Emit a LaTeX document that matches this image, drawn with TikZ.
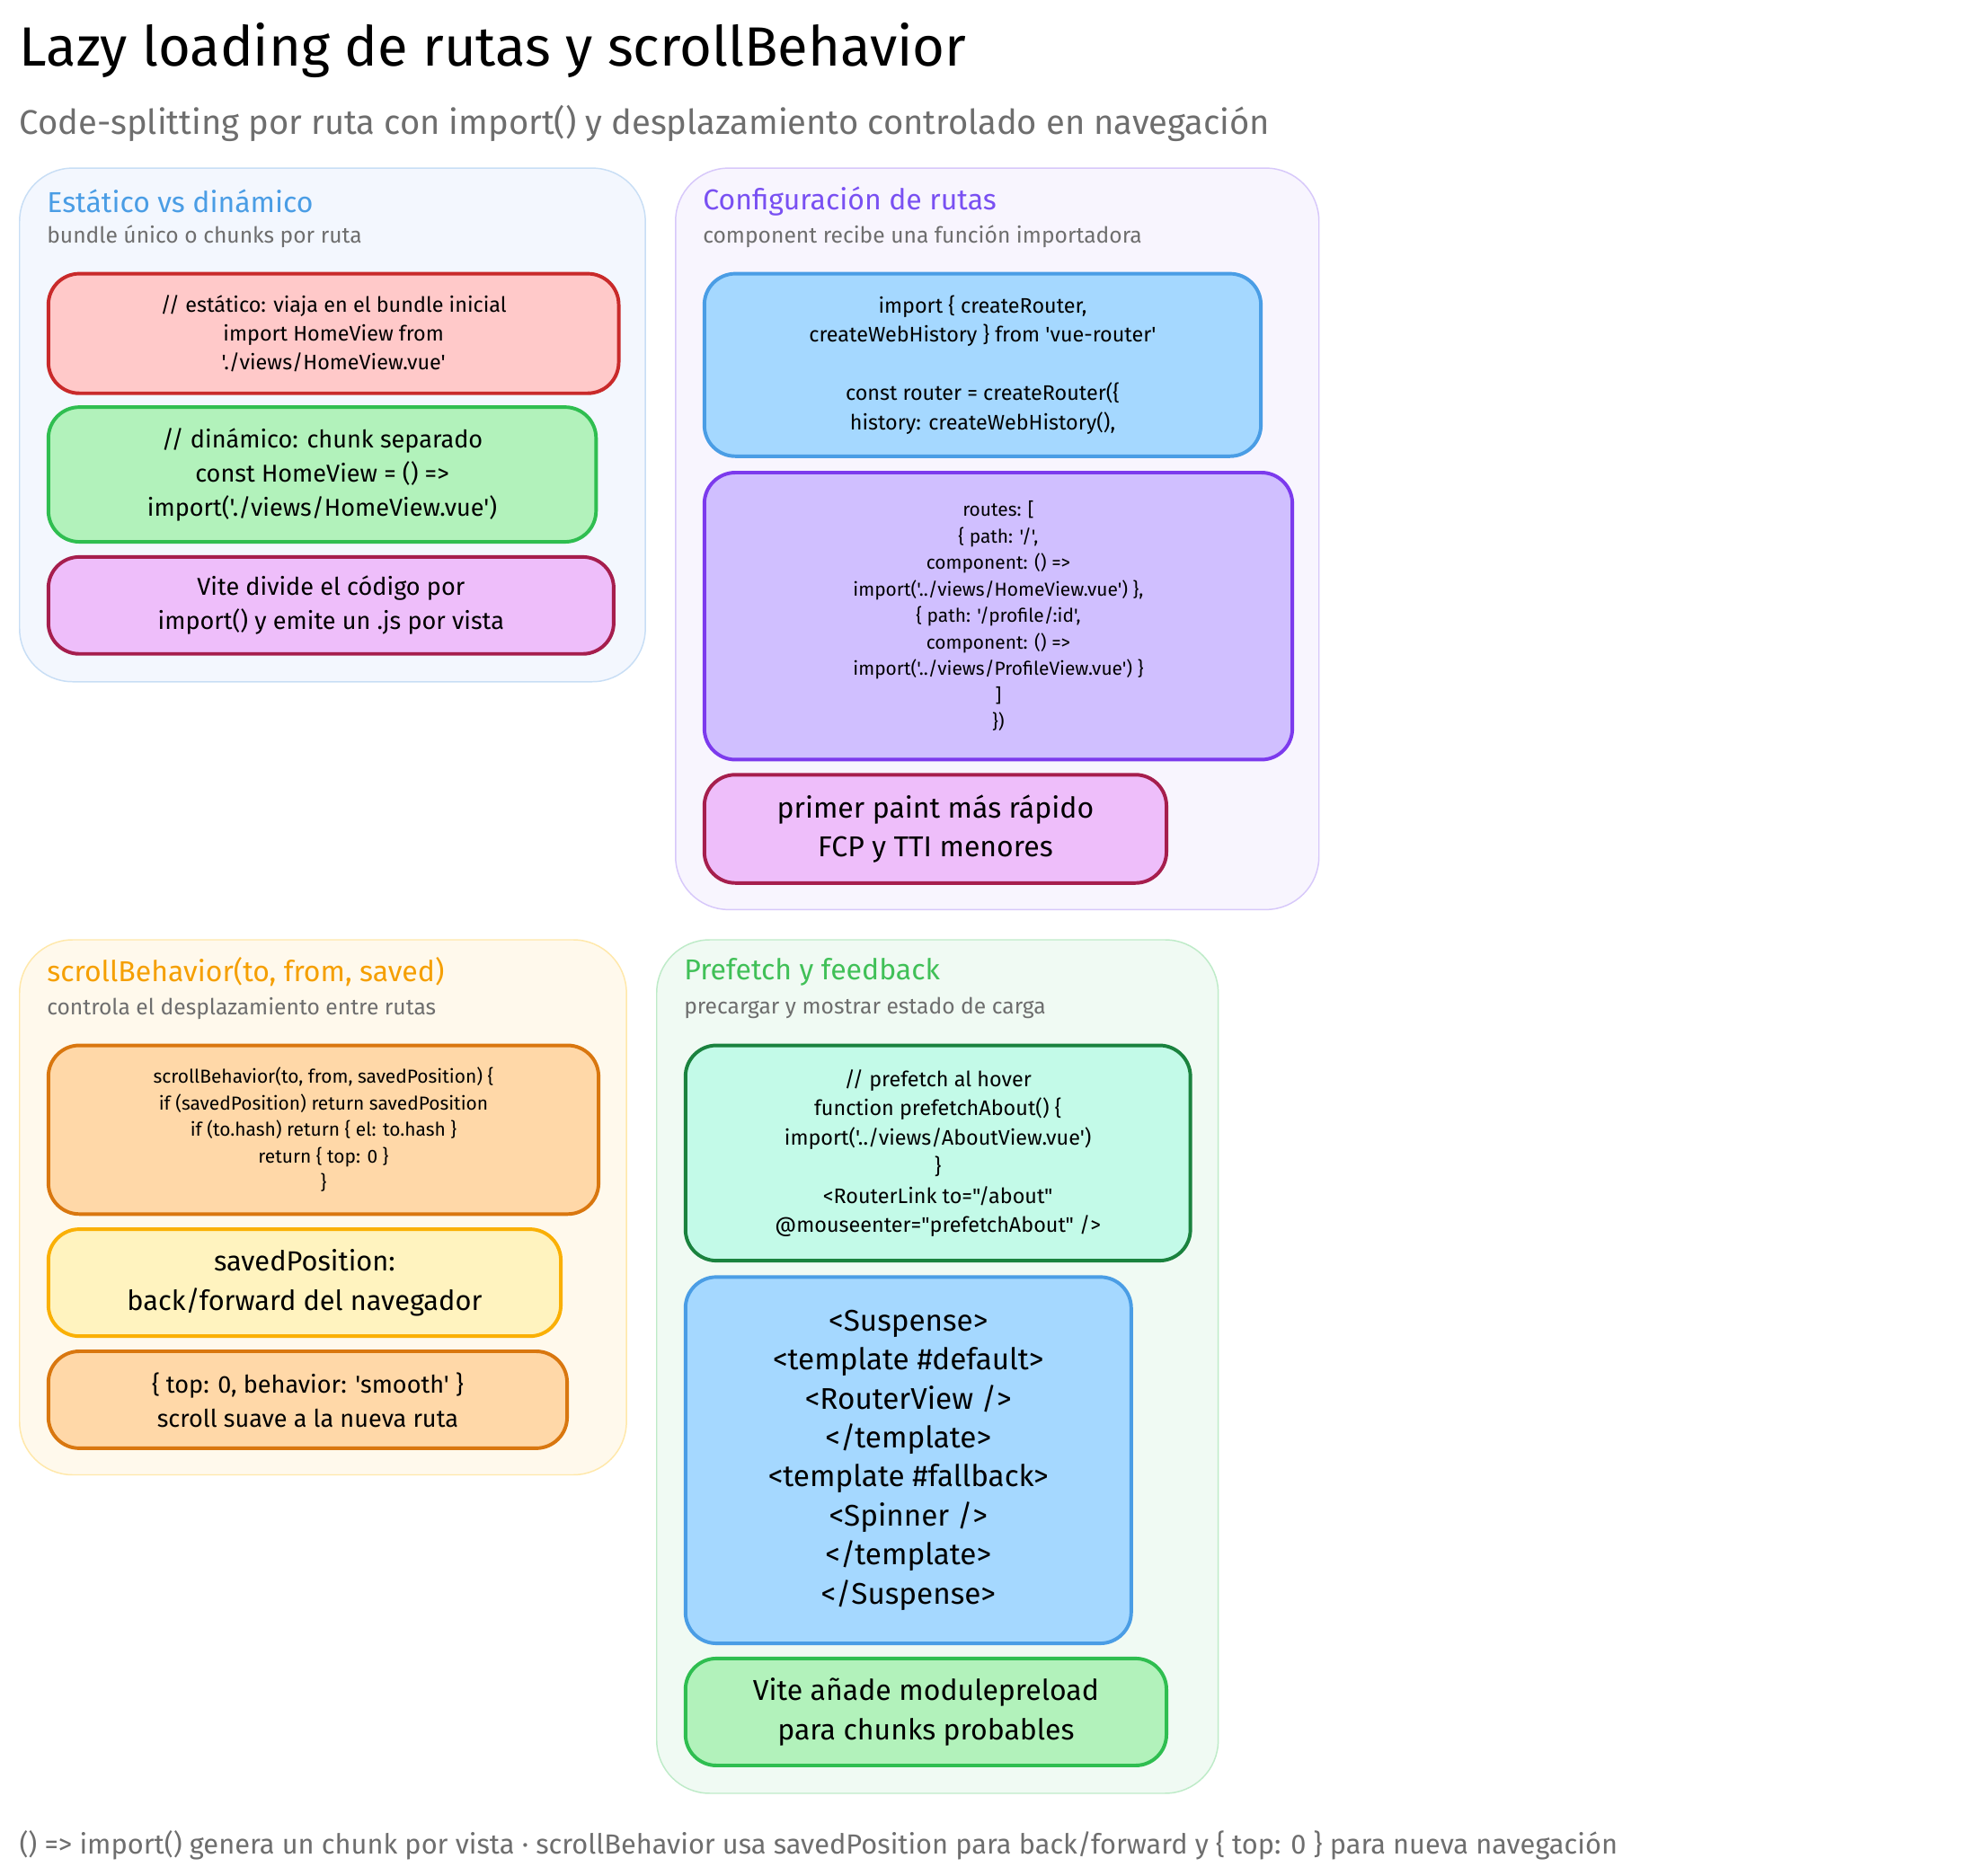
\documentclass[tikz,border=0pt]{standalone}
\usepackage{fontspec}
\setmainfont{Fira Sans}[Ligatures=TeXOff]
\usetikzlibrary{positioning}
\definecolor{inkgray}{HTML}{6E6E6E}
\tikzstyle{panel}=[draw, rounded corners=24pt, line width=0.6pt, anchor=north west, inner sep=0pt]
\tikzstyle{box}=[draw, rounded corners=14pt, line width=1.6pt, align=center, anchor=north west, inner sep=2pt]
\tikzstyle{ptitle}=[anchor=west, inner sep=0pt, font=\fontsize{13}{14}\selectfont]
\tikzstyle{psub}=[anchor=west, inner sep=0pt, text=inkgray, font=\fontsize{10}{11}\selectfont]

\begin{document}
\begin{tikzpicture}[x=0.2mm, y=-0.2mm]
            \useasboundingbox (0,0) rectangle (1563,1490);

            % header
            \node[anchor=west, inner sep=0pt, font=\fontsize{25}{28}\selectfont] (title) at (15,40) {Lazy loading de rutas y scrollBehavior};
            \node[anchor=west, inner sep=0pt, text=inkgray, font=\fontsize{15.5}{18}\selectfont] (subtitle) at (15,98) {Code-splitting por ruta con import() y desplazamiento controlado en navegación};

            % panels
            \node[panel, fill={rgb,255:red,243;green,247;blue,254}, draw={rgb,255:red,200;green,222;blue,245}, minimum width=497*0.2mm, minimum height=408*0.2mm] (p1) at (15,133) {};
            \node[panel, fill={rgb,255:red,248;green,245;blue,254}, draw={rgb,255:red,215;green,200;blue,250}, minimum width=511*0.2mm, minimum height=589*0.2mm] (p2) at (536,133) {};
            \node[panel, fill={rgb,255:red,255;green,249;blue,236}, draw={rgb,255:red,255;green,232;blue,170}, minimum width=482*0.2mm, minimum height=425*0.2mm] (p3) at (15,746) {};
            \node[panel, fill={rgb,255:red,240;green,250;blue,243}, draw={rgb,255:red,190;green,235;blue,200}, minimum width=446*0.2mm, minimum height=678*0.2mm] (p4) at (521,746) {};

            \node[ptitle, text={rgb,255:red,74;green,157;blue,229}] (t1) at (37,160) {Estático vs dinámico};
            \node[psub] (s1) at (37,188) {bundle único o chunks por ruta};
            \node[ptitle, text={rgb,255:red,121;green,80;blue,242}] (t2) at (558,160) {Configuración de rutas};
            \node[psub] (s2) at (558,188) {component recibe una función importadora};
            \node[ptitle, text={rgb,255:red,245;green,159;blue,0}] (t3) at (37,772) {scrollBehavior(to, from, saved)};
            \node[psub] (s3) at (37,801) {controla el desplazamiento entre rutas};
            \node[ptitle, text={rgb,255:red,64;green,192;blue,87}] (t4) at (543,772) {Prefetch y feedback};
            \node[psub] (s4) at (543,801) {precargar y mostrar estado de carga};

            % panel 1
            \node[box, fill={rgb,255:red,255;green,201;blue,201}, draw={rgb,255:red,201;green,42;blue,42}, minimum width=453*0.2mm, minimum height=95*0.2mm, font=\fontsize{9.5}{13}\selectfont] (static) at (37,216)
                {// estático: viaja en el bundle inicial\\import HomeView from\\'./views/HomeView.vue'};
            \node[box, fill={rgb,255:red,178;green,242;blue,187}, draw={rgb,255:red,47;green,190;blue,80}, minimum width=435*0.2mm, minimum height=107*0.2mm, font=\fontsize{11}{15.4}\selectfont] (dynamic) at (37,322)
                {// dinámico: chunk separado\\const HomeView = () =>\\import('./views/HomeView.vue')};
            \node[box, fill={rgb,255:red,238;green,190;blue,250}, draw={rgb,255:red,166;green,30;blue,77}, minimum width=449*0.2mm, minimum height=77*0.2mm, font=\fontsize{11}{15.4}\selectfont] (vite) at (37,441)
                {Vite divide el código por\\import() y emite un .js por vista};

            % panel 2
            \node[box, fill={rgb,255:red,165;green,216;blue,255}, draw={rgb,255:red,74;green,157;blue,229}, minimum width=442*0.2mm, minimum height=145*0.2mm, font=\fontsize{9.5}{13.2}\selectfont] (router) at (558,216)
                {import \{ createRouter,\\createWebHistory \} from 'vue-router'\\[13.2pt]const router = createRouter(\{\\history: createWebHistory(),};
            \node[box, fill={rgb,255:red,208;green,191;blue,255}, draw={rgb,255:red,124;green,58;blue,237}, minimum width=467*0.2mm, minimum height=228*0.2mm, font=\fontsize{8.5}{12}\selectfont] (routes) at (558,374)
                {routes: [\\\{ path: '/',\\component: () =>\\import('../views/HomeView.vue') \},\\\{ path: '/profile/:id',\\component: () =>\\import('../views/ProfileView.vue') \}\\]\\\})};
            \node[box, fill={rgb,255:red,238;green,190;blue,250}, draw={rgb,255:red,166;green,30;blue,77}, minimum width=367*0.2mm, minimum height=86*0.2mm, font=\fontsize{13}{17.6}\selectfont] (paint) at (558,614)
                {primer paint más rápido\\FCP y TTI menores};

            % panel 3
            \node[box, fill={rgb,255:red,255;green,216;blue,168}, draw={rgb,255:red,217;green,119;blue,15}, minimum width=437*0.2mm, minimum height=134*0.2mm, font=\fontsize{8.5}{12}\selectfont] (scroll) at (37,829)
                {scrollBehavior(to, from, savedPosition) \{\\if (savedPosition) return savedPosition\\if (to.hash) return \{ el: to.hash \}\\return \{ top: 0 \}\\\}};
            \node[box, fill={rgb,255:red,255;green,243;blue,191}, draw={rgb,255:red,250;green,176;blue,5}, minimum width=407*0.2mm, minimum height=85*0.2mm, font=\fontsize{12.5}{17.6}\selectfont] (saved) at (37,975)
                {savedPosition:\\back/forward del navegador};
            \node[box, fill={rgb,255:red,255;green,216;blue,168}, draw={rgb,255:red,217;green,119;blue,15}, minimum width=412*0.2mm, minimum height=77*0.2mm, font=\fontsize{11}{15.4}\selectfont] (smooth) at (37,1072)
                {\{ top: 0, behavior: 'smooth' \}\\scroll suave a la nueva ruta};

            % panel 4
            \node[box, fill={rgb,255:red,195;green,250;blue,232}, draw={rgb,255:red,26;green,130;blue,62}, minimum width=401*0.2mm, minimum height=171*0.2mm, font=\fontsize{9.5}{13.2}\selectfont] (prefetch) at (543,829)
                {// prefetch al hover\\function prefetchAbout() \{\\import('../views/AboutView.vue')\\\}\\<RouterLink to="/about"\\@mouseenter="prefetchAbout" />};
            \node[box, fill={rgb,255:red,165;green,216;blue,255}, draw={rgb,255:red,74;green,157;blue,229}, minimum width=354*0.2mm, minimum height=291*0.2mm, font=\fontsize{13.5}{17.6}\selectfont] (suspense) at (543,1013)
                {<Suspense>\\<template \#default>\\<RouterView />\\</template>\\<template \#fallback>\\<Spinner />\\</template>\\</Suspense>};
            \node[box, fill={rgb,255:red,178;green,242;blue,187}, draw={rgb,255:red,47;green,190;blue,80}, minimum width=382*0.2mm, minimum height=85*0.2mm, font=\fontsize{13}{17.6}\selectfont] (preload) at (543,1316)
                {Vite añade modulepreload\\para chunks probables};

            % footer
            \node[anchor=west, inner sep=0pt, text=inkgray, font=\fontsize{12.5}{14}\selectfont] (footer) at (15,1466)
                {() => import() genera un chunk por vista · scrollBehavior usa savedPosition para back/forward y \{ top: 0 \} para nueva navegación};
        \end{tikzpicture}
\end{document}
